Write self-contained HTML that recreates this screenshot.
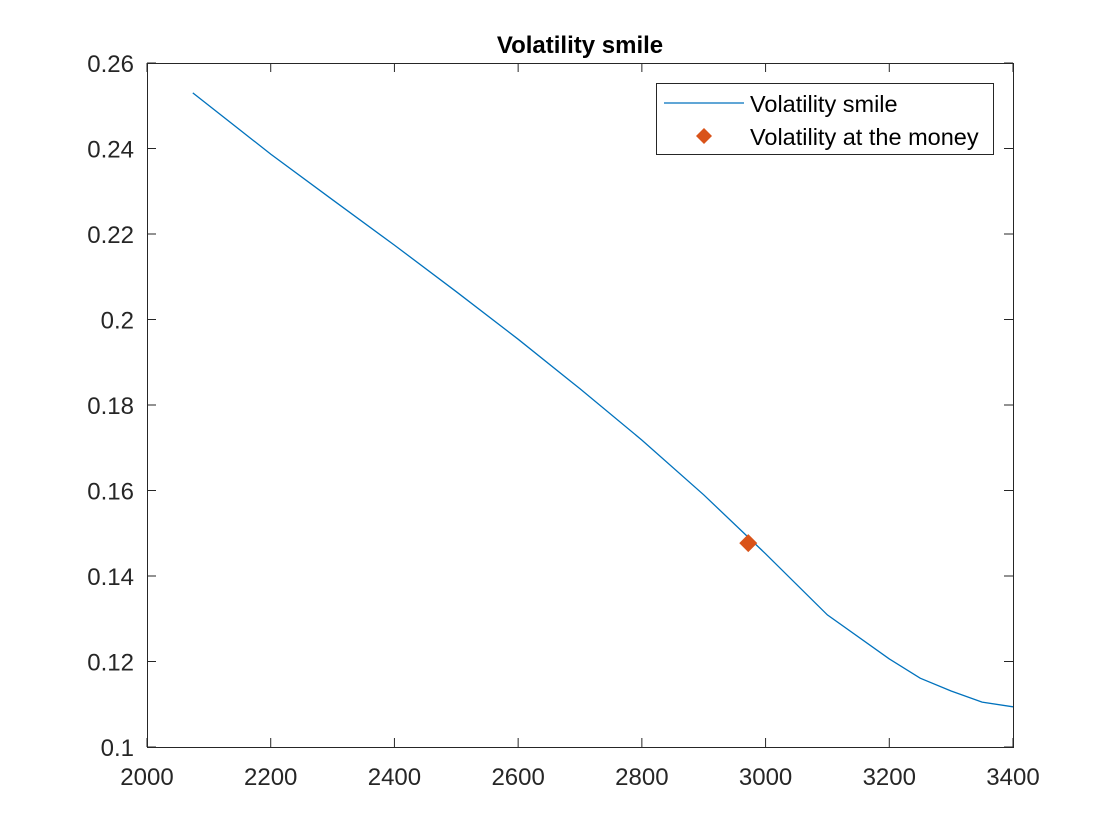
<!DOCTYPE html>
<html><head><meta charset="utf-8"><style>
body{margin:0;background:#fff;}
svg{display:block;font-family:"Liberation Sans",sans-serif;}
</style></head><body>
<svg id="chart" width="1120" height="840">
<rect width="1120" height="840" fill="#fff"/>
<text x="580" y="53" text-anchor="middle" font-size="24" font-weight="bold" fill="#000">Volatility smile</text>
<g id="axes"></g>
<path id="line" fill="none" stroke="#0072BD" stroke-width="1.3"/>
<g id="legend">
<rect x="656.5" y="83.5" width="337" height="71" fill="#fff" stroke="#262626" stroke-width="1"/>
<line x1="664" y1="103" x2="744" y2="103" stroke="#0072BD" stroke-width="1.3"/>
<text x="750" y="112" font-size="23.5" fill="#000">Volatility smile</text>
<path d="M704 128 L712 136 L704 144 L696 136 Z" fill="#D95319"/>
<text x="750" y="145" font-size="23.5" fill="#000">Volatility at the money</text>
</g>
</svg>
<script>
const strikes=[2074,2200,2300,2400,2500,2600,2700,2800,2900,3000,3100,3200,3250,3300,3350,3400];
const vols=[0.253,0.2387,0.228,0.2174,0.2065,0.1954,0.1838,0.1718,0.159,0.1452,0.1309,0.1206,0.1161,0.1131,0.1105,0.1094];
const atmStrike=[2972];
const atmVol=[0.1477];
const xTicks=[2000,2200,2400,2600,2800,3000,3200,3400];
const yTicks=[0.1,0.12,0.14,0.16,0.18,0.2,0.22,0.24,0.26];
const L=147,R=1013,T=63,B=747;
const xs=v=>L+(v-2000)/1400*(R-L);
const ys=v=>B-(v-0.1)/0.16*(B-T);
const ns="http://www.w3.org/2000/svg";
const svg=document.getElementById('chart');
const ax=document.getElementById('axes');
function mk(t,a,p){const e=document.createElementNS(ns,t);for(const k in a)e.setAttribute(k,a[k]);(p||ax).appendChild(e);return e;}
const box=mk('rect',{x:L+.5,y:T+.5,width:R-L,height:B-T,fill:'none',stroke:'#262626','stroke-width':1});


xTicks.forEach(v=>{const x=xs(v);
mk('line',{x1:x,y1:B,x2:x,y2:B-9,stroke:'#262626'});mk('line',{x1:x,y1:T,x2:x,y2:T+9,stroke:'#262626'});
const t=mk('text',{x:x,y:B+38,'text-anchor':'middle','font-size':24,fill:'#262626'});t.textContent=v;

});
yTicks.forEach(v=>{const y=ys(v);
mk('line',{x1:L,y1:y,x2:L+9,y2:y,stroke:'#262626'});mk('line',{x1:R,y1:y,x2:R-9,y2:y,stroke:'#262626'});
const t=mk('text',{x:L-13,y:y+9,'text-anchor':'end','font-size':24,fill:'#262626'});t.textContent=+v.toFixed(2)+'';

});
document.getElementById('line').setAttribute('d',strikes.map((s,i)=>(i?'L':'M')+xs(s).toFixed(1)+' '+ys(vols[i]).toFixed(1)).join(' '));
atmStrike.forEach((s,i)=>{const x=xs(s),y=ys(atmVol[i]);
const m=mk('path',{d:`M${x} ${y-9} L${x+9} ${y} L${x} ${y+9} L${x-9} ${y} Z`,fill:'#D95319'},svg);

});
</script>
</body></html>
